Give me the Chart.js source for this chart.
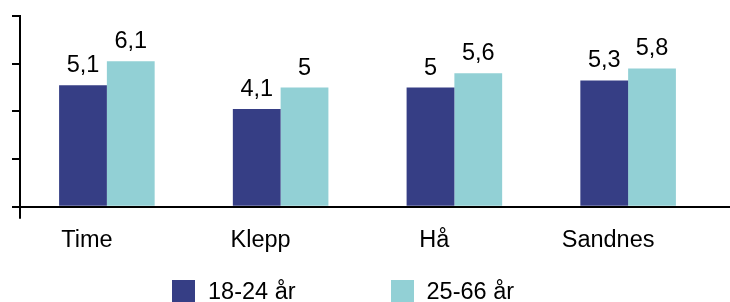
<!DOCTYPE html>
<html lang="no">
<head>
<meta charset="utf-8">
<title>Gruppe 18-24 og 25-66 år</title>
<script src="https://cdn.jsdelivr.net/npm/chart.js@4/dist/chart.umd.min.js"></script>
<style>
	html, body { margin: 0; padding: 0; background: #fff; overflow: hidden; }
	#wrap { position: relative; width: 730px; height: 302px; }
	#legend {
		position: absolute; left: 172px; top: 280px;
		display: flex; gap: 95px;
		font-family: "Liberation Sans", Arial, sans-serif; font-size: 23.5px; color: #000;
	}
	.item { display: flex; align-items: center; }
	.box { width: 23px; height: 23px; margin-right: 13px; }
	.item span { line-height: 23px; }
</style>
</head>
<body>
<div id="wrap">
	<canvas id="chart" width="730" height="302"></canvas>
	<div id="legend"></div>
</div>
<script>
const kommuner = ['Time', 'Klepp', 'Hå', 'Sandnes'];
const ung = [5.1, 4.1, 5, 5.3];
const voksen = [6.1, 5, 5.6, 5.8];
const serieNavn = ['18-24 år', '25-66 år'];
const farger = ['#363e85', '#92d0d5'];

document.addEventListener('DOMContentLoaded', function() {
	Chart.defaults.font.family = '"Liberation Sans", Arial, sans-serif';
	Chart.defaults.color = '#000';

	// tall over søylene, med komma
	const verdiEtiketter = {
		id: 'verdiEtiketter',
		afterDatasetsDraw(chart) {
			const c = chart.ctx;
			c.save();
			c.font = '23.5px "Liberation Sans", Arial, sans-serif';
			c.fillStyle = '#000';
			c.textAlign = 'center';
			c.textBaseline = 'alphabetic';
			chart.data.datasets.forEach(function(ds, i) {
				chart.getDatasetMeta(i).data.forEach(function(bar, j) {
					c.fillText(String(ds.data[j]).replace('.', ','), bar.x, bar.y - 13);
				});
			});
			c.restore();
		}
	};

	// x-aksen går helt ut til høyre kant
	const aksLinje = {
		id: 'aksLinje',
		afterDraw(chart) {
			const c = chart.ctx;
			const y = Math.round(chart.scales.x.top) ;
			c.save();
			c.strokeStyle = '#000';
			c.lineWidth = 2;
			c.beginPath();
			c.moveTo(chart.chartArea.right, y);
			c.lineTo(chart.width, y);
			c.stroke();
			c.restore();
		}
	};

	const chart = new Chart(document.getElementById('chart').getContext('2d'), {
		type: 'bar',
		data: {
			labels: kommuner,
			datasets: [{
				label: serieNavn[0],
				data: ung,
				backgroundColor: farger[0]
			}, {
				label: serieNavn[1],
				data: voksen,
				backgroundColor: farger[1]
			}]
		},
		options: {
			responsive: false,
			animation: false,
			layout: {
				padding: { left: 12, top: 16, right: 15, bottom: 39 }
			},
			datasets: {
				bar: { barPercentage: 1, categoryPercentage: 0.55 }
			},
			scales: {
				x: {
					border: { display: true, color: '#000', width: 2 },
					grid: {
						drawOnChartArea: false,
						drawTicks: true,
						tickLength: 12,
						lineWidth: 2,
						color: function(ctx) {
							return ctx.index === 0 ? '#000' : 'rgba(0,0,0,0)';
						}
					},
					ticks: {
						font: { size: 23.5 },
						padding: 8,
						labelOffset: -20,
						maxRotation: 0
					}
				},
				y: {
					min: 0,
					max: 8,
					border: { display: true, color: '#000', width: 2 },
					grid: {
						drawOnChartArea: false,
						drawTicks: true,
						tickLength: 8,
						lineWidth: 2,
						color: '#000'
					},
					ticks: {
						stepSize: 2,
						display: false
					}
				}
			},
			plugins: {
				legend: { display: false },
				tooltip: { enabled: false }
			}
		},
		plugins: [verdiEtiketter, aksLinje]
	});

	const legend = document.getElementById('legend');
	chart.data.datasets.forEach(function(ds) {
		const item = document.createElement('div');
		item.className = 'item';
		const box = document.createElement('div');
		box.className = 'box';
		box.style.background = ds.backgroundColor;
		const txt = document.createElement('span');
		txt.textContent = ds.label;
		item.appendChild(box);
		item.appendChild(txt);
		legend.appendChild(item);
	});
});
</script>
</body>
</html>
